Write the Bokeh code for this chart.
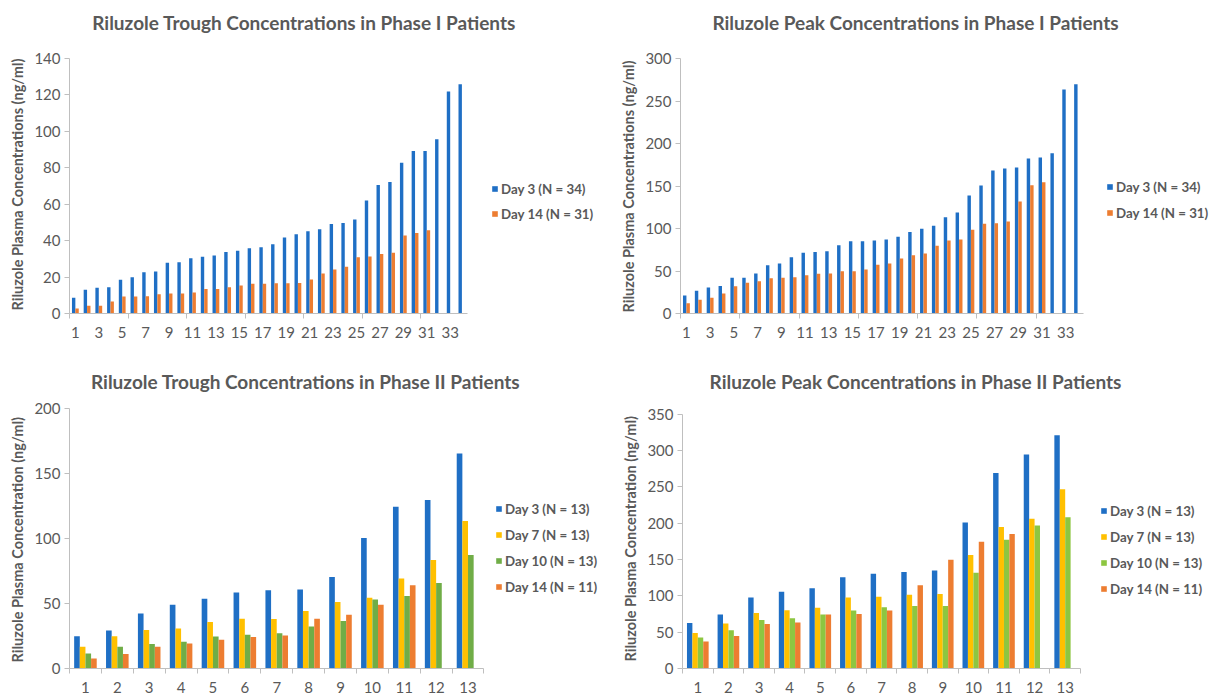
from bokeh.plotting import figure
from bokeh.layouts import column, row
from bokeh.models import (ColumnDataSource, Range1d, FixedTicker, Legend,
                          LegendItem, Label, Title)
from bokeh.transform import dodge
from bokeh.embed import file_html
from bokeh.resources import INLINE

# ---- Phase I (patients sorted by concentration) ----
p1_trough_day3 = [8.6, 13, 14.1, 14.4, 18.5, 19.9, 22.7, 23, 27.8, 28.2,
                  30.3, 31.1, 31.8, 33.8, 34.4, 35.8, 36.4, 38, 41.7, 43.5,
                  45.2, 46.3, 49.2, 49.7, 51.6, 62, 70.6, 72.2, 82.8, 89.2,
                  89.2, 95.6, 121.9, 125.8]
p1_trough_day14 = [2.7, 4.2, 4.2, 6.6, 9.3, 9.3, 9.5, 10.6, 11, 11,
                   11.5, 13.5, 13.5, 14.4, 15.4, 16.3, 16.3, 16.6, 16.6, 16.8,
                   18.6, 21.9, 24.1, 25.6, 30.9, 31.3, 32.7, 33.3, 42.8, 44.2,
                   45.7]
p1_peak_day3 = [21.2, 26.7, 30.6, 32.5, 42, 42, 47, 56.9, 58.8, 66.3,
                71.4, 72.5, 73.3, 80.4, 85.1, 85.1, 85.9, 87, 90.2, 96,
                99.6, 103.1, 113.3, 118.8, 138.8, 150.6, 168.2, 170.6, 171.8, 182.4,
                183.5, 188.6, 263.5, 269.8]
p1_peak_day14 = [12.2, 16.1, 18.4, 23.5, 32.2, 36.1, 38, 41.6, 42, 42.7,
                 45.1, 46.7, 47, 49.8, 49.8, 51.8, 57.3, 58.8, 64.7, 68.6,
                 70.6, 79.6, 85.9, 87, 98.4, 105.5, 106.3, 108.2, 131.8, 151,
                 154.5]

# ---- Phase II ----
p2_trough_day3 = [24.9, 29.3, 42.4, 49.1, 53.7, 58.4, 60.2, 60.7, 70.4, 100.3, 124.4, 129.6, 165.3]
p2_trough_day7 = [16.7, 24.9, 29.6, 30.8, 35.7, 38.3, 38, 44.2, 51.2, 54.5, 69.2, 83.5, 113.4]
p2_trough_day10 = [11.6, 16.7, 18.8, 20.6, 24.7, 26, 27.2, 32.4, 36.5, 53, 55.8, 65.8, 87.4]
p2_trough_day14 = [7.7, 11.1, 16.7, 19.3, 22.1, 24.2, 25.4, 38.3, 41.4, 49.1, 64]

p2_peak_day3 = [62.8, 74.2, 97.6, 105.8, 110.4, 125.5, 130.6, 132.8, 135.1, 201.1, 269.3, 294.5, 321.1]
p2_peak_day7 = [49, 61.8, 76.5, 80.2, 83.8, 97.6, 98.9, 101.7, 102.6, 156.2, 194.7, 206.1, 246.9]
p2_peak_day10 = [42.6, 52.7, 66.9, 69.2, 74.2, 79.7, 84.3, 86.1, 86.1, 131.9, 177.3, 197, 208.4]
p2_peak_day14 = [37.1, 44.9, 61.4, 63.2, 74.2, 75.1, 79.7, 114.7, 149.8, 174.5, 185.1]

phase1_labels = ["Day 3 (N = 34)", "Day 14 (N = 31)"]
phase2_labels = ["Day 3 (N = 13)", "Day 7 (N = 13)", "Day 10 (N = 13)", "Day 14 (N = 11)"]

BLUE = "#1F6FC5"
ORANGE = "#ED7D31"
GOLD = "#FFC000"
GREEN_A = "#70AD47"
GREEN_B = "#8DC641"

FONT = "Lato"
TEXT = "#595959"
AXIS = "#BFBFBF"


def panel(title, ylabel, ymax, ystep, n_cat, series, labels, colors, bar_w,
          fig_w, fig_h, left, bottom, plot_right, plot_top,
          label_ticks, minor_ticks, title_xy, ylabel_offset, legend_xy,
          legend_spacing):
    # The frame fills everything right of / above the axes so that the
    # title and legend can sit in it; axes are limited with `bounds`.
    frame_w = fig_w - left
    frame_h = fig_h - bottom
    cat_px = (plot_right - left) / n_cat
    unit_px = (frame_h - plot_top) / ymax
    x_end = 0.5 + frame_w / cat_px
    y_end = frame_h / unit_px

    p = figure(width=fig_w, height=fig_h, output_backend="svg",
               toolbar_location=None, tools="",
               x_range=Range1d(0.5, x_end), y_range=Range1d(0, y_end),
               min_border_left=left, min_border_right=0,
               min_border_top=0, min_border_bottom=bottom)
    p.outline_line_color = None
    p.grid.grid_line_color = None
    p.background_fill_color = "white"

    k = len(series)
    items = []
    for i, (vals, lab, col) in enumerate(zip(series, labels, colors)):
        src = ColumnDataSource(dict(x=list(range(1, len(vals) + 1)), y=vals))
        off = (i - (k - 1) / 2.0) * bar_w
        r = p.vbar(x=dodge("x", off), top="y", width=bar_w, source=src,
                   fill_color=col, line_color=None)
        items.append(LegendItem(label=lab, renderers=[r]))

    # chart title, placed in pixel terms then converted to data units
    tx, ty = title_xy
    p.add_layout(Label(x=0.5 + (tx - left) / cat_px, y=(frame_h - ty) / unit_px,
                       text=title, text_font=FONT, text_font_size="19px",
                       text_font_style="bold", text_color=TEXT,
                       text_align="center", text_baseline="middle"))

    # y axis
    ya = p.yaxis[0]
    ya.ticker = FixedTicker(ticks=list(range(0, ymax + 1, ystep)))
    ya.bounds = (0, ymax)
    ya.major_label_text_font = FONT
    ya.major_label_text_font_size = "15px"
    ya.major_label_text_color = TEXT
    ya.major_label_standoff = 4
    ya.axis_line_color = AXIS
    ya.major_tick_line_color = AXIS
    ya.major_tick_out = 5
    ya.major_tick_in = 0
    ya.minor_tick_line_color = None

    # y axis title, measured up from the bottom of the value axis
    p.add_layout(Title(text=ylabel, align="left", offset=ylabel_offset,
                       standoff=12, text_font=FONT, text_font_size="14.5px",
                       text_font_style="bold", text_color=TEXT), "left")

    # category axis: labels at centres, tick marks at boundaries
    xa = p.xaxis[0]
    xa.ticker = FixedTicker(ticks=label_ticks, minor_ticks=minor_ticks)
    xa.bounds = (0.5, n_cat + 0.5)
    xa.major_label_text_font = FONT
    xa.major_label_text_font_size = "15px"
    xa.major_label_text_color = TEXT
    xa.major_label_standoff = 8
    xa.axis_line_color = AXIS
    xa.major_tick_line_color = None
    xa.major_tick_out = 0
    xa.major_tick_in = 0
    xa.minor_tick_line_color = AXIS
    xa.minor_tick_out = 5
    xa.minor_tick_in = 0

    lx, ly = legend_xy
    leg = Legend(items=items, location=(lx - left, ly),
                 orientation="vertical",
                 border_line_color=None, background_fill_alpha=0,
                 padding=0, margin=0, spacing=legend_spacing,
                 glyph_width=7, glyph_height=7, label_height=18,
                 label_standoff=3, label_text_font=FONT,
                 label_text_font_size="13.3px", label_text_font_style="bold",
                 label_text_color=TEXT)
    p.add_layout(leg)
    return p


top_labels = list(range(1, 34, 2))
top_minor = [0.5 + 5 * i for i in range(7)]
bot_labels = list(range(1, 14))
bot_minor = [0.5 + i for i in range(14)]

pa = panel("Riluzole Trough Concentrations in Phase I Patients",
           "Riluzole Plasma Concentrations (ng/ml)", 140, 20, 34,
           [p1_trough_day3, p1_trough_day14], phase1_labels, [BLUE, ORANGE],
           0.29, 604, 348, 68, 35, 467, 58, top_labels, top_minor,
           (303, 22), 3, (490, 90.5), 7)
pb = panel("Riluzole Peak Concentrations in Phase I Patients",
           "Riluzole Plasma Concentrations (ng/ml)", 300, 50, 34,
           [p1_peak_day3, p1_peak_day14], phase1_labels, [BLUE, ORANGE],
           0.29, 605, 348, 76, 35, 479, 58, top_labels, top_minor,
           (311, 22), 1, (502, 91.5), 8)
pc = panel("Riluzole Trough Concentrations in Phase II Patients",
           "Riluzole Plasma Concentration (ng/ml)", 200, 50, 13,
           [p2_trough_day3, p2_trough_day7, p2_trough_day10, p2_trough_day14],
           phase2_labels, [BLUE, GOLD, GREEN_A, ORANGE],
           0.177, 604, 348, 67, 28, 483, 60, bot_labels, bot_minor,
           (304, 33), 6, (493, 72.5), 8)
pd_ = panel("Riluzole Peak Concentrations in Phase II Patients",
            "Riluzole Plasma Concentration (ng/ml)", 350, 50, 13,
            [p2_peak_day3, p2_peak_day7, p2_peak_day10, p2_peak_day14],
            phase2_labels, [BLUE, GOLD, GREEN_B, ORANGE],
            0.177, 605, 348, 78, 27, 476, 66, bot_labels, bot_minor,
            (311, 33), 7, (496, 70.5), 8)

layout = column(row(pa, pb, spacing=0), row(pc, pd_, spacing=0), spacing=0)

open("out.html", "w").write(file_html(layout, INLINE))
